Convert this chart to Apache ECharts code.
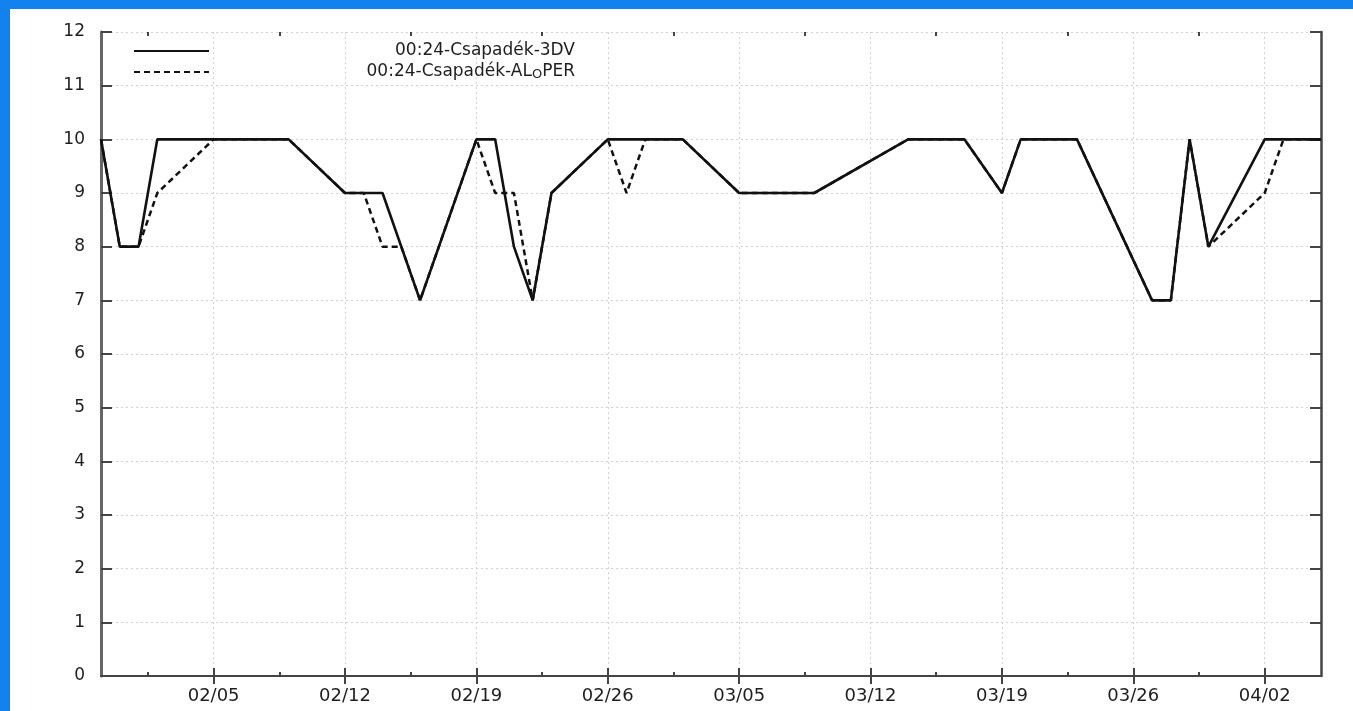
<!DOCTYPE html>
<html>
<head>
<meta charset="utf-8">
<title>Csapadék 00:24 – 3DV / ALOPER</title>
<script src="https://cdn.jsdelivr.net/npm/echarts@6/dist/echarts.min.js"></script>
<style>
  html, body { margin: 0; padding: 0; background: #ffffff; }
  #wrap { position: relative; width: 1353px; height: 711px; overflow: hidden; background: #ffffff; }
  #chart { position: absolute; left: 0; top: 0; width: 1353px; height: 711px; }
  .band { position: absolute; background: #1283ee; z-index: 5; }
  #bandTop { left: 0; top: 0; width: 1353px; height: 9px; }
  #bandLeft { left: 0; top: 0; width: 10px; height: 711px; }
</style>
</head>
<body>
<div id="wrap">
  <div id="chart"></div>
  <div class="band" id="bandTop"></div>
  <div class="band" id="bandLeft"></div>
</div>
<script>
// Axis span (MM/DD) and weekly tick labels
const axisStart = '01/30';
const axisEnd = '04/05';
const tickLabels = ['02/05', '02/12', '02/19', '02/26', '03/05', '03/12', '03/19', '03/26', '04/02'];
const yTicks = [0, 1, 2, 3, 4, 5, 6, 7, 8, 9, 10, 11, 12];

// Series names
const name3DV = '00:24-Csapadék-3DV';
const nameALOPER = '00:24-Csapadék-ALOPER';

// 3DV observations
const dates3DV = ['01/30', '01/31', '02/01', '02/02', '02/09', '02/12', '02/14', '02/16', '02/19', '02/20',
  '02/21', '02/22', '02/23', '02/26', '03/02', '03/05', '03/09', '03/14', '03/17', '03/19',
  '03/20', '03/23', '03/27', '03/28', '03/29', '03/30', '04/02', '04/05'];
const values3DV = [10, 8, 8, 10, 10, 9, 9, 7, 10, 10,
  8, 7, 9, 10, 10, 9, 9, 10, 10, 9,
  10, 10, 7, 7, 10, 8, 10, 10];

// ALOPER observations
const datesALOPER = ['01/30', '01/31', '02/01', '02/02', '02/05', '02/09', '02/12', '02/13', '02/14', '02/15',
  '02/16', '02/19', '02/20', '02/21', '02/22', '02/23', '02/26', '02/27', '02/28', '03/02',
  '03/05', '03/09', '03/14', '03/17', '03/19', '03/20', '03/23', '03/27', '03/28', '03/29',
  '03/30', '04/02', '04/03', '04/05'];
const valuesALOPER = [10, 8, 8, 9, 10, 10, 9, 9, 8, 8,
  7, 10, 9, 9, 7, 9, 10, 9, 10, 10,
  9, 9, 10, 10, 9, 10, 10, 7, 7, 10,
  8, 9, 10, 10];

// Half-day category slots from axisStart to axisEnd (non-leap year calendar)
function mmdd(dt) {
  const m = String(dt.getUTCMonth() + 1).padStart(2, '0');
  const d = String(dt.getUTCDate()).padStart(2, '0');
  return m + '/' + d;
}
const categories = [];
(function buildSlots() {
  const [sm, sd] = axisStart.split('/').map(Number);
  const year = 2005;
  for (let day = 0; ; day++) {
    const label = mmdd(new Date(Date.UTC(year, sm - 1, sd + day)));
    categories.push(label);
    if (label === axisEnd) break;
    categories.push(label + ' 12h');
  }
})();

const majorIdx = new Set(tickLabels.map(l => categories.indexOf(l)));
const minorIdx = new Set();
majorIdx.forEach(i => { if (i - 7 >= 0) minorIdx.add(i - 7); if (i + 7 < categories.length) minorIdx.add(i + 7); });
majorIdx.forEach(i => minorIdx.delete(i));
const isMajor = (i) => majorIdx.has(i);
const isMinor = (i) => minorIdx.has(i);

const FONT = '"DejaVu Sans", "Liberation Sans", sans-serif';
const TEXT = '#1e1e1e';
const AXIS = '#444444';
const GRID = '#d2d2d2';

// Right-align the legend texts at a common edge
const measureCtx = document.createElement('canvas').getContext('2d');
function textWidth(str, size) {
  measureCtx.font = size + 'px ' + FONT;
  return measureCtx.measureText(str).width;
}
const legendLeft = 133, legendIcon = 75, legendRight = 574, legendFont = 17, subFont = 13;
const w3DV = textWidth(name3DV, legendFont);
const wALOPER = textWidth('00:24-Csapadék-AL', legendFont) + textWidth('O', subFont) + textWidth('PER', legendFont);
const pad3DV = Math.max(0, legendRight - w3DV - (legendLeft + legendIcon + 5));
const padALOPER = Math.max(0, legendRight - wALOPER - (legendLeft + legendIcon + 5));

const chart = echarts.init(document.getElementById('chart'), null, { renderer: 'canvas' });

const xCommon = {
  type: 'category',
  data: categories,
  boundaryGap: false,
  gridIndex: 0
};

const legendBase = {
  left: legendLeft, padding: 0,
  orient: 'vertical',
  itemWidth: legendIcon, itemHeight: 14,
  selectedMode: false,
  itemStyle: { opacity: 0, borderWidth: 0 }
};

const option = {
  animation: false,
  backgroundColor: '#ffffff',
  grid: { left: 101, right: 32, top: 32, bottom: 35, containLabel: false },
  legend: [
    Object.assign({}, legendBase, {
      data: [name3DV],
      top: 42,
      textStyle: { fontFamily: FONT, fontSize: legendFont, color: TEXT, lineHeight: 18, padding: [0, 0, 0, pad3DV] }
    }),
    Object.assign({}, legendBase, {
      data: [nameALOPER],
      top: 56,
      formatter: () => '00:24-Csapadék-AL{sub|O}PER',
      textStyle: {
        fontFamily: FONT, fontSize: legendFont, color: TEXT, lineHeight: 18, padding: [0, 0, 0, padALOPER],
        rich: { sub: { fontFamily: FONT, fontSize: subFont, color: TEXT, lineHeight: 13, padding: [12, 0, 0, 0], verticalAlign: 'bottom' } }
      }
    })
  ],
  xAxis: [
    Object.assign({}, xCommon, {
      position: 'bottom',
      axisLine: { show: true, lineStyle: { color: AXIS, width: 2 } },
      axisTick: { show: true, inside: true, length: 8, interval: (i) => isMajor(i), lineStyle: { color: AXIS, width: 2 } },
      axisLabel: { show: true, interval: (i) => isMajor(i), margin: 11, fontFamily: FONT, fontSize: 18, color: TEXT },
      splitLine: { show: true, interval: (i) => isMajor(i), lineStyle: { color: GRID, width: 1, type: [2, 3] } }
    }),
    Object.assign({}, xCommon, {
      position: 'top',
      axisLine: { show: true, lineStyle: { color: AXIS, width: 2 } },
      axisTick: { show: true, inside: true, length: 8, interval: (i) => isMajor(i), lineStyle: { color: AXIS, width: 2 } },
      axisLabel: { show: false },
      splitLine: { show: false }
    }),
    Object.assign({}, xCommon, {
      position: 'bottom',
      axisLine: { show: false },
      axisTick: { show: true, inside: true, length: 4, interval: (i) => isMinor(i), lineStyle: { color: AXIS, width: 2 } },
      axisLabel: { show: false },
      splitLine: { show: false }
    }),
    Object.assign({}, xCommon, {
      position: 'top',
      axisLine: { show: false },
      axisTick: { show: true, inside: true, length: 4, interval: (i) => isMinor(i), lineStyle: { color: AXIS, width: 2 } },
      axisLabel: { show: false },
      splitLine: { show: false }
    })
  ],
  yAxis: [
    {
      type: 'value', position: 'left',
      min: yTicks[0], max: yTicks[yTicks.length - 1], interval: 1,
      axisLine: { show: true, lineStyle: { color: '#666666', width: 3 } },
      axisTick: { show: true, inside: true, length: 11, lineStyle: { color: AXIS, width: 2 } },
      axisLabel: { show: true, margin: 16, fontFamily: FONT, fontSize: 17, color: TEXT },
      splitLine: { show: true, lineStyle: { color: GRID, width: 1, type: [2, 3] } }
    },
    {
      type: 'value', position: 'right',
      min: yTicks[0], max: yTicks[yTicks.length - 1], interval: 1,
      axisLine: { show: true, lineStyle: { color: AXIS, width: 2.5 } },
      axisTick: { show: true, inside: true, length: 11, lineStyle: { color: AXIS, width: 2 } },
      axisLabel: { show: false },
      splitLine: { show: false }
    }
  ],
  series: [
    {
      name: name3DV,
      type: 'line',
      xAxisIndex: 0, yAxisIndex: 0,
      z: 4,
      showSymbol: false, symbol: 'none',
      lineStyle: { color: '#111111', width: 2.6, type: 'solid' },
      itemStyle: { color: '#111111' },
      data: dates3DV.map((d, i) => [d, values3DV[i]])
    },
    {
      name: nameALOPER,
      type: 'line',
      xAxisIndex: 0, yAxisIndex: 0,
      z: 3,
      showSymbol: false, symbol: 'none',
      lineStyle: { color: '#111111', width: 2.5, type: [6, 4] },
      itemStyle: { color: '#111111' },
      data: datesALOPER.map((d, i) => [d, valuesALOPER[i]])
    }
  ]
};

chart.setOption(option);
</script>
</body>
</html>
